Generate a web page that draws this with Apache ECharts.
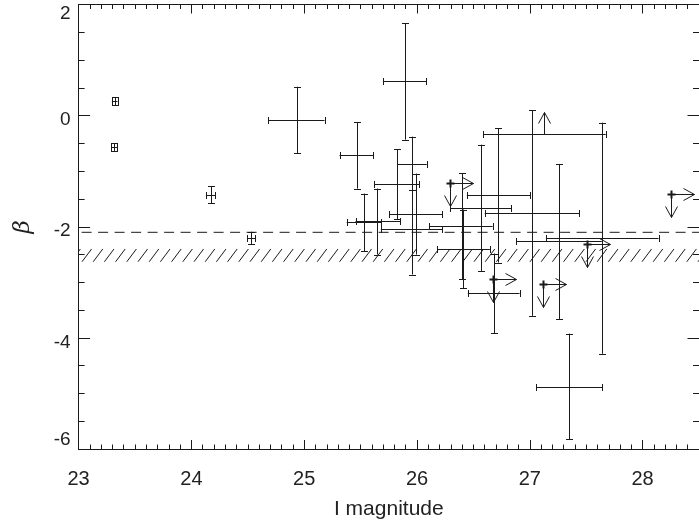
<!DOCTYPE html>
<html><head><meta charset="utf-8">
<script src="https://cdn.jsdelivr.net/npm/echarts@6/dist/echarts.min.js"></script>
<style>html,body{margin:0;padding:0;background:#fff}#c{width:699px;height:525px}</style>
</head><body><div id="c"></div>
<script>
// Points with error bars: value, low end, high end (x = I magnitude, y = beta)
const ebX   = [23.32, 23.316, 24.171, 24.53, 24.933, 25.464, 25.89, 25.954, 25.82, 25.99, 25.953, 25.531, 25.648, 26.72, 26.567, 27.02, 27.641, 27.259, 26.68, 26.398, 26.405, 27.348];
const ebXLo = [23.295, 23.291, 24.129, 24.493, 24.68, 25.313, 25.698, 25.823, 25.619, 25.756, 25.68, 25.377, 25.455, 26.442, 26.296, 26.6, 27.143, 26.88, 26.451, 26.106, 26.18, 27.055];
const ebXHi = [23.345, 23.341, 24.213, 24.567, 25.18, 25.61, 26.08, 26.086, 26.018, 26.223, 26.223, 25.683, 25.849, 27.003, 26.836, 27.44, 28.141, 27.638, 26.909, 26.67, 26.646, 27.641];
const ebY   = [0.26, -0.565, -1.433, -2.2, -0.072, -0.714, 0.617, -0.863, -1.23, -1.766, -2.045, -1.91, -1.9, -1.433, -1.658, -1.754, -2.207, -2.26, -3.2, -1.982, -2.405, -4.883];
const ebYLo = [0.185, -0.635, -1.58, -2.31, -0.68, -1.313, -0.432, -1.343, -1.865, -2.5, -2.86, -2.44, -2.5, -2.644, -2.795, -3.604, -4.286, -3.669, -3.92, -2.944, -3.11, -5.829];
const ebYHi = [0.335, -0.495, -1.27, -2.09, 0.52, -0.115, 1.66, -0.378, -0.606, -1.043, -1.236, -1.403, -1.313, -0.223, -0.522, 0.095, -0.126, -0.87, -2.482, -1.032, -1.69, -3.923];

// Limits: x lower limit and beta upper limit (arrows right and down)
const limX = [26.29, 27.504, 27.116, 28.251, 26.676];
const limY = [-1.22, -2.302, -3.034, -1.403, -2.944];

// Beta lower limit with x error bar (arrow up)
const lowX   = [27.13];
const lowXLo = [26.588];
const lowXHi = [27.673];
const lowY   = [-0.324];

// Reference levels
const dashY = -2.1;
const bandY = [-2.63, -2.40];

const xRange = [23, 28.5];
const yRange = [-6, 2];
const xLabels = [23, 24, 25, 26, 27, 28];
const yLabels = [-6, -4, -2, 0, 2];

const INK = '#1a1a1a';
const FONT = 'Liberation Sans, Arial, Helvetica, sans-serif';
const r = v => Math.round(v) + 0.5;
const L = (x1, y1, x2, y2, w) => ({type: 'line', shape: {x1: x1, y1: y1, x2: x2, y2: y2}, style: {stroke: INK, lineWidth: w || 1}});

function errRender(params, api) {
  const y = api.value(3);
  const c = api.coord([api.value(0), y]);
  const xl = api.coord([api.value(1), y]);
  const xh = api.coord([api.value(2), y]);
  const yl = api.coord([api.value(0), api.value(4)]);
  const yh = api.coord([api.value(0), api.value(5)]);
  const h = 3.5, cx = r(c[0]), cy = r(c[1]);
  return {type: 'group', children: [
    L(xl[0], cy, xh[0], cy), L(r(xl[0]), cy - h, r(xl[0]), cy + h), L(r(xh[0]), cy - h, r(xh[0]), cy + h),
    L(cx, yl[1], cx, yh[1]), L(cx - h, r(yl[1]), cx + h, r(yl[1])), L(cx - h, r(yh[1]), cx + h, r(yh[1]))
  ]};
}
function limRender(params, api) {
  const c = api.coord([api.value(0), api.value(1)]);
  const cx = r(c[0]), cy = r(c[1]);
  const len = 23, hb = 11, hw = 6;
  return {type: 'group', children: [
    L(cx - 4, cy, cx + 4, cy, 2), L(cx, cy - 4, cx, cy + 4, 2),
    L(cx, cy, cx + len, cy), L(cx + len - hb, cy - hw, cx + len, cy), L(cx + len - hb, cy + hw, cx + len, cy),
    L(cx, cy, cx, cy + len), L(cx - hw, cy + len - hb, cx, cy + len), L(cx + hw, cy + len - hb, cx, cy + len)
  ]};
}
function lowRender(params, api) {
  const y = api.value(3);
  const c = api.coord([api.value(0), y]);
  const xl = api.coord([api.value(1), y]);
  const xh = api.coord([api.value(2), y]);
  const cx = r(c[0]), cy = r(c[1]);
  const h = 3.5, len = 22, hb = 11, hw = 6;
  return {type: 'group', children: [
    L(xl[0], cy, xh[0], cy), L(r(xl[0]), cy - h, r(xl[0]), cy + h), L(r(xh[0]), cy - h, r(xh[0]), cy + h),
    L(cx, cy, cx, cy - len), L(cx - hw, cy - len + hb, cx, cy - len), L(cx + hw, cy - len + hb, cx, cy - len)
  ]};
}
function hatchRender(params, api) {
  const lo = api.coord([xRange[0], api.value(0)]);
  const hi = api.coord([xRange[0], api.value(1)]);
  const right = api.coord([xRange[1], api.value(0)])[0];
  const dx = (lo[1] - hi[1]) * 0.75;
  const kids = [];
  for (let x = lo[0] + 3.4 - 11.2; x < right + 1; x += 11.2) kids.push(L(x, lo[1], x + dx, hi[1]));
  return {type: 'group', children: kids};
}

const tickStyle = {color: INK, width: 1};
function xAx(pos, interval, len, labels) {
  return {
    type: 'value', position: pos, min: xRange[0], max: xRange[1], interval: interval,
    axisLine: {show: true, onZero: false, lineStyle: tickStyle},
    axisTick: {show: true, inside: true, length: len, lineStyle: tickStyle},
    axisLabel: labels ? {show: true, showMaxLabel: false, fontSize: 20, margin: 20, color: '#222', fontFamily: FONT,
      formatter: v => (xLabels.indexOf(v) >= 0 ? String(v) : '')} : {show: false},
    splitLine: {show: false},
    name: labels ? 'I magnitude' : '', nameLocation: 'middle', nameGap: 50,
    nameTextStyle: {fontSize: 21, color: '#222', fontFamily: FONT}
  };
}
function yAx(pos, labels) {
  return {
    type: 'value', position: pos, min: yRange[0], max: yRange[1], interval: 2,
    axisLine: {show: true, onZero: false, lineStyle: tickStyle},
    axisTick: {show: true, inside: true, length: 11.5, lineStyle: tickStyle},
    minorTick: {show: true, splitNumber: 4, length: 6, lineStyle: tickStyle},
    axisLabel: labels ? {show: true, fontSize: 19, margin: 8, color: '#222', fontFamily: FONT,
      verticalAlignMaxLabel: 'top', verticalAlignMinLabel: 'bottom',
      formatter: v => {
        if (yLabels.indexOf(v) < 0) return '';
        if (v === yRange[0] || v === yRange[1]) return '{e|' + v + '}';
        return '{m|' + v + '}';
      },
      rich: {
        e: {fontSize: 19, color: '#222', fontFamily: FONT},
        m: {fontSize: 19, color: '#222', fontFamily: FONT, padding: [9, 0, 0, 0]}
      }} : {show: false},
    splitLine: {show: false},
    name: labels ? 'β' : '', nameLocation: 'middle', nameRotate: 90, nameGap: 44,
    nameTextStyle: {fontSize: 23, color: '#222', fontStyle: 'italic', fontFamily: 'DejaVu Serif, serif'}
  };
}

const chart = echarts.init(document.getElementById('c'), null, {renderer: 'canvas'});
chart.setOption({
  animation: false,
  backgroundColor: '#fff',
  grid: {left: 78.6, top: 4.5, width: 628.1, height: 444.8, containLabel: false},
  xAxis: [xAx('bottom', 1, 9, true), xAx('bottom', 0.1, 4.5, false), xAx('top', 1, 9, false), xAx('top', 0.1, 4.5, false)],
  yAxis: [yAx('left', true), yAx('right', false)],
  series: [
    {type: 'custom', clip: true, renderItem: hatchRender, data: [[bandY[0], bandY[1]]], encode: {y: [0, 1]}, silent: true},
    {type: 'line', data: [[xRange[0], dashY], [xRange[1], dashY]], symbol: 'none', silent: true,
      lineStyle: {color: INK, width: 1, type: [10, 6.5], dashOffset: -3}},
    {type: 'custom', clip: true, renderItem: errRender, encode: {x: [0, 1, 2], y: [3, 4, 5]},
      data: ebX.map((x, i) => [x, ebXLo[i], ebXHi[i], ebY[i], ebYLo[i], ebYHi[i]])},
    {type: 'custom', clip: true, renderItem: limRender, encode: {x: 0, y: 1},
      data: limX.map((x, i) => [x, limY[i]])},
    {type: 'custom', clip: true, renderItem: lowRender, encode: {x: [0, 1, 2], y: 3},
      data: lowX.map((x, i) => [x, lowXLo[i], lowXHi[i], lowY[i]])}
  ]
});
</script>
</body></html>
